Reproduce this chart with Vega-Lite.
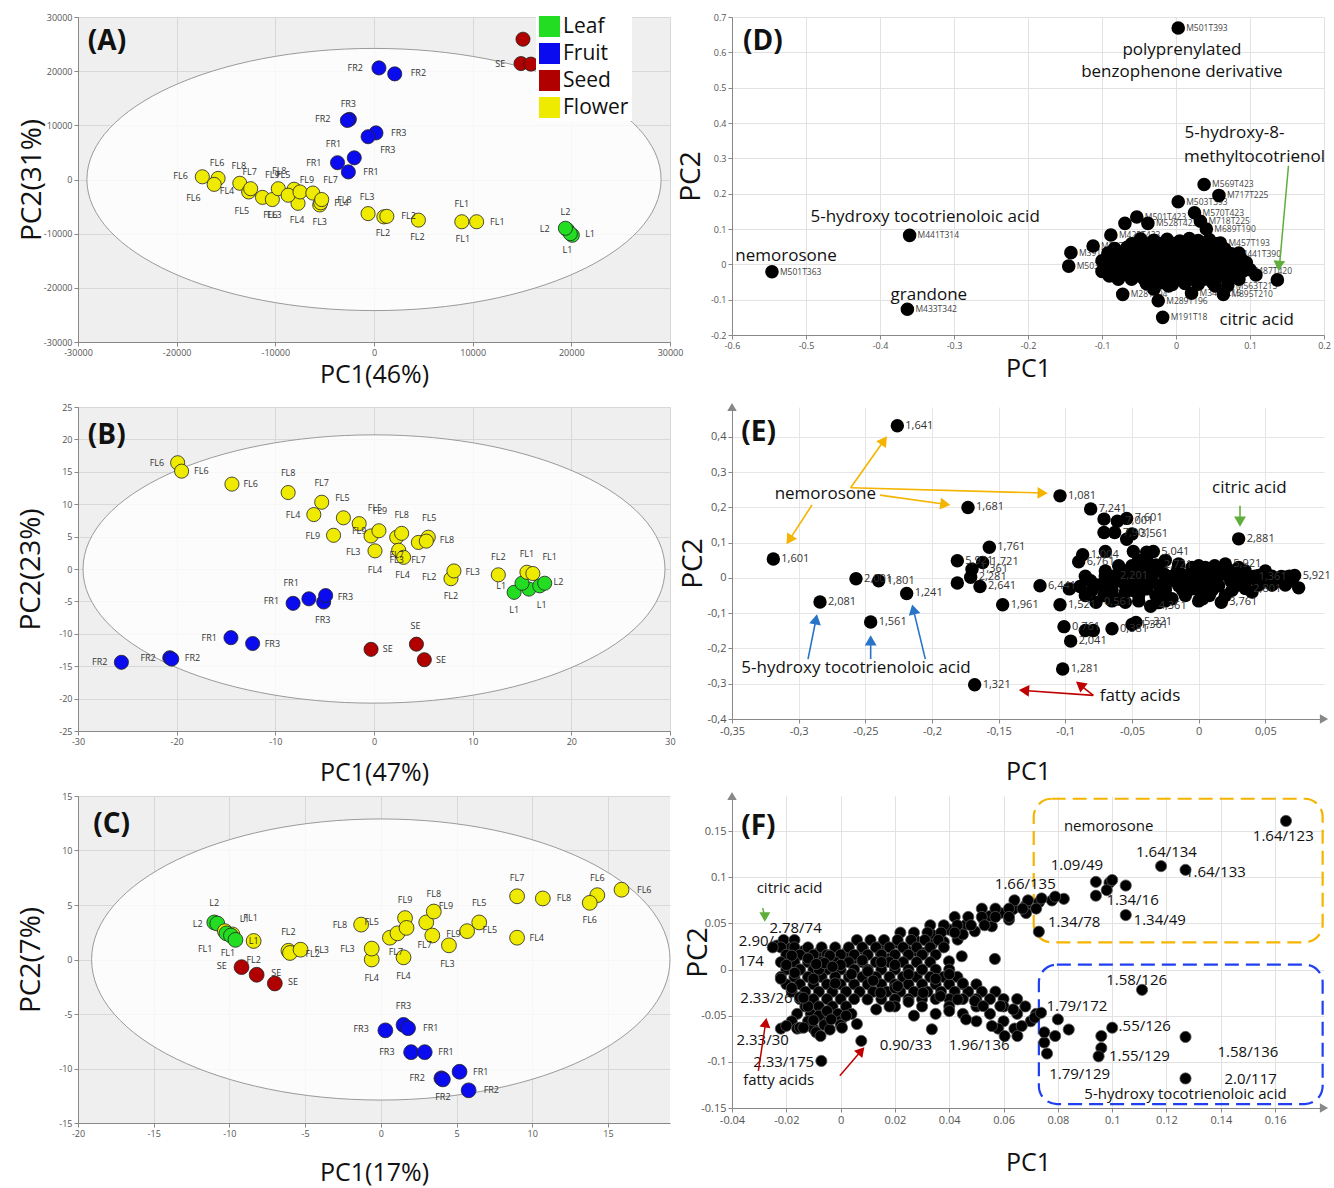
{
"$schema":"https://vega.github.io/schema/vega-lite/v6.json",
"background":"#ffffff",
"padding":{"left":17,"top":13,"right":2,"bottom":2},
"config":{"font":"Open Sans","view":{"stroke":null},
 "axis":{"labelFont":"Open Sans","titleFont":"Open Sans","labelColor":"#555","titleColor":"#111","titleFontWeight":"normal","domainColor":"#888","tickColor":"#888","gridColor":"#d8d8d8","tickSize":4,"labelFontSize":9,"labelPadding":2,"labelFlush":false,"labelOverlap":false},
 "text":{"font":"Open Sans"}},
"datasets":{
"A_pts":[{"x":15100,"y":25900,"tissue":"Seed"},{"x":14900,"y":21400,"tissue":"Seed"},{"x":15900,"y":21300,"tissue":"Seed"},{"x":500,"y":20600,"tissue":"Fruit"},{"x":2100,"y":19500,"tissue":"Fruit"},{"x":-2500,"y":11100,"tissue":"Fruit"},{"x":-2700,"y":10900,"tissue":"Fruit"},{"x":200,"y":8600,"tissue":"Fruit"},{"x":-600,"y":7900,"tissue":"Fruit"},{"x":-2000,"y":4000,"tissue":"Fruit"},{"x":-3700,"y":3100,"tissue":"Fruit"},{"x":-2600,"y":1400,"tissue":"Fruit"},
{"x":-17400,"y":500,"tissue":"Flower"},{"x":-15800,"y":200,"tissue":"Flower"},{"x":-16200,"y":-900,"tissue":"Flower"},{"x":-13600,"y":-700,"tissue":"Flower"},{"x":-12700,"y":-2300,"tissue":"Flower"},{"x":-12500,"y":-1700,"tissue":"Flower"},{"x":-11300,"y":-3300,"tissue":"Flower"},{"x":-10300,"y":-3700,"tissue":"Flower"},{"x":-9700,"y":-1700,"tissue":"Flower"},{"x":-8100,"y":-1800,"tissue":"Flower"},{"x":-7700,"y":-4400,"tissue":"Flower"},{"x":-8700,"y":-2900,"tissue":"Flower"},{"x":-7500,"y":-2300,"tissue":"Flower"},{"x":-6200,"y":-2500,"tissue":"Flower"},{"x":-5500,"y":-4700,"tissue":"Flower"},{"x":-5400,"y":-4300,"tissue":"Flower"},{"x":-5300,"y":-3700,"tissue":"Flower"},{"x":-600,"y":-6300,"tissue":"Flower"},{"x":1000,"y":-6900,"tissue":"Flower"},{"x":1300,"y":-6800,"tissue":"Flower"},{"x":4500,"y":-7500,"tissue":"Flower"},{"x":8900,"y":-7800,"tissue":"Flower"},{"x":10400,"y":-7800,"tissue":"Flower"},
{"x":19600,"y":-9300,"tissue":"Leaf"},{"x":20100,"y":-10300,"tissue":"Leaf"},{"x":19900,"y":-10000,"tissue":"Leaf"},{"x":19400,"y":-9000,"tissue":"Leaf"}],
"A_lab":[{"x":17100,"y":25900,"label":"SE"},{"x":12800,"y":21400,"label":"SE"},{"x":17800,"y":21300,"label":"SE"},{"x":-1900,"y":20600,"label":"FR2"},{"x":4500,"y":19700,"label":"FR2"},{"x":-2600,"y":13900,"label":"FR3"},{"x":-5200,"y":11100,"label":"FR2"},{"x":2500,"y":8600,"label":"FR3"},{"x":1400,"y":5400,"label":"FR3"},{"x":-4100,"y":6500,"label":"FR1"},{"x":-6100,"y":3100,"label":"FR1"},{"x":-300,"y":1400,"label":"FR1"},{"x":-19600,"y":600,"label":"FL6"},{"x":-15900,"y":3100,"label":"FL6"},{"x":-18300,"y":-3400,"label":"FL6"},{"x":-13700,"y":2500,"label":"FL8"},{"x":-12600,"y":1400,"label":"FL7"},{"x":-14900,"y":-2100,"label":"FL4"},{"x":-13400,"y":-5800,"label":"FL5"},{"x":-9600,"y":1600,"label":"FL8"},{"x":-10300,"y":800,"label":"FL9"},{"x":-9200,"y":800,"label":"FL5"},{"x":-10500,"y":-6600,"label":"FL6"},{"x":-10100,"y":-6600,"label":"FL3"},{"x":-6800,"y":-100,"label":"FL9"},{"x":-4400,"y":-100,"label":"FL7"},{"x":-7800,"y":-7400,"label":"FL4"},{"x":-5500,"y":-7800,"label":"FL3"},{"x":-3000,"y":-3700,"label":"FL8"},{"x":-3300,"y":-4300,"label":"FL4"},{"x":-700,"y":-3200,"label":"FL3"},{"x":900,"y":-9800,"label":"FL2"},{"x":3500,"y":-6800,"label":"FL2"},{"x":4400,"y":-10600,"label":"FL2"},{"x":8900,"y":-4600,"label":"FL1"},{"x":9000,"y":-10900,"label":"FL1"},{"x":12500,"y":-7800,"label":"FL1"},{"x":17300,"y":-9100,"label":"L2"},{"x":19400,"y":-6000,"label":"L2"},{"x":21900,"y":-10100,"label":"L1"},{"x":19600,"y":-13000,"label":"L1"}],
"B_pts":[{"x":-19.9,"y":16.4,"tissue":"Flower"},{"x":-19.5,"y":15.1,"tissue":"Flower"},{"x":-14.4,"y":13.1,"tissue":"Flower"},{"x":-8.7,"y":11.8,"tissue":"Flower"},{"x":-5.3,"y":10.3,"tissue":"Flower"},{"x":-6.1,"y":8.4,"tissue":"Flower"},{"x":-3.1,"y":7.9,"tissue":"Flower"},{"x":-4.1,"y":5.2,"tissue":"Flower"},{"x":-1.5,"y":7.0,"tissue":"Flower"},{"x":-0.3,"y":5.1,"tissue":"Flower"},{"x":0.5,"y":5.9,"tissue":"Flower"},{"x":0.1,"y":2.8,"tissue":"Flower"},{"x":2.3,"y":4.9,"tissue":"Flower"},{"x":2.8,"y":5.5,"tissue":"Flower"},{"x":2.5,"y":2.9,"tissue":"Flower"},{"x":3.0,"y":1.8,"tissue":"Flower"},{"x":4.5,"y":4.1,"tissue":"Flower"},{"x":5.5,"y":4.9,"tissue":"Flower"},{"x":5.3,"y":4.3,"tissue":"Flower"},{"x":7.8,"y":-1.5,"tissue":"Flower"},{"x":8.1,"y":-0.3,"tissue":"Flower"},{"x":12.6,"y":-0.9,"tissue":"Flower"},
{"x":14.2,"y":-3.6,"tissue":"Leaf"},{"x":15.7,"y":-3.1,"tissue":"Leaf"},{"x":16.8,"y":-2.6,"tissue":"Leaf"},{"x":17.3,"y":-2.2,"tissue":"Leaf"},{"x":15.0,"y":-2.2,"tissue":"Leaf"},{"x":15.5,"y":-0.5,"tissue":"Flower"},{"x":16.1,"y":-0.7,"tissue":"Flower"},
{"x":-8.2,"y":-5.3,"tissue":"Fruit"},{"x":-6.6,"y":-4.6,"tissue":"Fruit"},{"x":-5.1,"y":-5.1,"tissue":"Fruit"},{"x":-4.9,"y":-4.1,"tissue":"Fruit"},{"x":-14.5,"y":-10.6,"tissue":"Fruit"},{"x":-12.3,"y":-11.5,"tissue":"Fruit"},{"x":-20.7,"y":-13.7,"tissue":"Fruit"},{"x":-20.5,"y":-13.9,"tissue":"Fruit"},{"x":-25.6,"y":-14.4,"tissue":"Fruit"},
{"x":-0.3,"y":-12.4,"tissue":"Seed"},{"x":4.3,"y":-11.6,"tissue":"Seed"},{"x":5.1,"y":-14.0,"tissue":"Seed"}],
"B_lab":[{"x":-22.0,"y":16.3,"label":"FL6"},{"x":-17.5,"y":15.2,"label":"FL6"},{"x":-12.5,"y":13.1,"label":"FL6"},{"x":-8.7,"y":14.8,"label":"FL8"},{"x":-5.3,"y":13.2,"label":"FL7"},{"x":-3.2,"y":10.9,"label":"FL5"},{"x":-8.2,"y":8.4,"label":"FL4"},{"x":-6.2,"y":5.1,"label":"FL9"},{"x":-1.5,"y":5.9,"label":"FL9"},{"x":0.1,"y":9.4,"label":"FL5"},{"x":0.6,"y":9.0,"label":"FL9"},{"x":2.8,"y":8.4,"label":"FL8"},{"x":5.6,"y":7.8,"label":"FL5"},{"x":7.4,"y":4.5,"label":"FL8"},{"x":-2.1,"y":2.7,"label":"FL3"},{"x":0.1,"y":-0.1,"label":"FL4"},{"x":2.3,"y":1.4,"label":"FL3"},{"x":2.3,"y":2.2,"label":"FL7"},{"x":4.5,"y":1.4,"label":"FL7"},{"x":2.9,"y":-1.0,"label":"FL4"},{"x":5.6,"y":-1.3,"label":"FL2"},{"x":10.0,"y":-0.4,"label":"FL3"},{"x":7.8,"y":-4.2,"label":"FL2"},{"x":12.6,"y":1.9,"label":"FL2"},{"x":15.5,"y":2.3,"label":"FL1"},{"x":17.8,"y":1.8,"label":"FL1"},{"x":12.9,"y":-2.6,"label":"L1"},{"x":18.7,"y":-2.0,"label":"L2"},{"x":14.2,"y":-6.4,"label":"L1"},{"x":17.0,"y":-5.5,"label":"L1"},{"x":-8.4,"y":-2.2,"label":"FR1"},{"x":-10.4,"y":-5.0,"label":"FR1"},{"x":-2.9,"y":-4.3,"label":"FR3"},{"x":-5.2,"y":-7.9,"label":"FR3"},{"x":-16.7,"y":-10.6,"label":"FR1"},{"x":-10.3,"y":-11.5,"label":"FR3"},{"x":-22.9,"y":-13.7,"label":"FR2"},{"x":-18.4,"y":-13.8,"label":"FR2"},{"x":-27.8,"y":-14.4,"label":"FR2"},{"x":1.4,"y":-12.4,"label":"SE"},{"x":4.2,"y":-8.8,"label":"SE"},{"x":6.8,"y":-14.0,"label":"SE"}],
"C_pts":[{"x":-11.0,"y":3.4,"tissue":"Leaf"},{"x":-10.8,"y":3.3,"tissue":"Leaf"},{"x":-10.3,"y":2.6,"tissue":"Flower"},{"x":-9.8,"y":2.3,"tissue":"Flower"},{"x":-8.4,"y":1.7,"tissue":"Flower"},{"x":-10.2,"y":2.4,"tissue":"Leaf"},{"x":-9.9,"y":2.2,"tissue":"Leaf"},{"x":-9.6,"y":1.8,"tissue":"Leaf"},
{"x":-6.1,"y":0.8,"tissue":"Flower"},{"x":-6.0,"y":0.6,"tissue":"Flower"},{"x":-5.3,"y":0.9,"tissue":"Flower"},{"x":-1.3,"y":3.2,"tissue":"Flower"},{"x":-0.6,"y":0.0,"tissue":"Flower"},{"x":-0.6,"y":1.0,"tissue":"Flower"},{"x":0.6,"y":2.0,"tissue":"Flower"},{"x":1.1,"y":2.4,"tissue":"Flower"},{"x":1.6,"y":3.8,"tissue":"Flower"},{"x":1.7,"y":2.9,"tissue":"Flower"},{"x":1.5,"y":0.2,"tissue":"Flower"},{"x":3.0,"y":3.4,"tissue":"Flower"},{"x":3.5,"y":4.4,"tissue":"Flower"},{"x":3.4,"y":2.2,"tissue":"Flower"},{"x":4.5,"y":1.3,"tissue":"Flower"},{"x":5.7,"y":2.6,"tissue":"Flower"},{"x":6.5,"y":3.4,"tissue":"Flower"},{"x":9.0,"y":5.8,"tissue":"Flower"},{"x":9.0,"y":2.0,"tissue":"Flower"},{"x":10.7,"y":5.6,"tissue":"Flower"},{"x":14.3,"y":5.9,"tissue":"Flower"},{"x":13.8,"y":5.2,"tissue":"Flower"},{"x":15.9,"y":6.4,"tissue":"Flower"},
{"x":-9.2,"y":-0.7,"tissue":"Seed"},{"x":-8.2,"y":-1.4,"tissue":"Seed"},{"x":-7.0,"y":-2.2,"tissue":"Seed"},
{"x":0.3,"y":-6.5,"tissue":"Fruit"},{"x":1.5,"y":-6.0,"tissue":"Fruit"},{"x":1.8,"y":-6.3,"tissue":"Fruit"},{"x":2.0,"y":-8.5,"tissue":"Fruit"},{"x":2.9,"y":-8.5,"tissue":"Fruit"},{"x":5.2,"y":-10.3,"tissue":"Fruit"},{"x":4.0,"y":-10.9,"tissue":"Fruit"},{"x":4.1,"y":-11.0,"tissue":"Fruit"},{"x":5.8,"y":-12.0,"tissue":"Fruit"}],
"C_lab":[{"x":-11.0,"y":5.2,"label":"L2"},{"x":-12.1,"y":3.3,"label":"L2"},{"x":-9.0,"y":3.7,"label":"L1"},{"x":-8.6,"y":3.8,"label":"FL1"},{"x":-11.6,"y":1.0,"label":"FL1"},{"x":-10.1,"y":0.6,"label":"FL1"},{"x":-8.4,"y":1.7,"label":"L1"},{"x":-8.4,"y":0.0,"label":"FL2"},{"x":-10.5,"y":-0.6,"label":"SE"},{"x":-6.9,"y":-1.2,"label":"SE"},{"x":-5.8,"y":-2.1,"label":"SE"},{"x":-6.1,"y":2.5,"label":"FL2"},{"x":-3.9,"y":0.9,"label":"FL3"},{"x":-4.5,"y":0.5,"label":"FL2"},{"x":-2.7,"y":3.2,"label":"FL8"},{"x":-0.6,"y":3.4,"label":"FL5"},{"x":-2.2,"y":1.0,"label":"FL3"},{"x":-0.6,"y":-1.7,"label":"FL4"},{"x":1.0,"y":0.7,"label":"FL7"},{"x":1.6,"y":5.5,"label":"FL9"},{"x":3.5,"y":6.0,"label":"FL8"},{"x":4.3,"y":4.9,"label":"FL9"},{"x":1.5,"y":-1.5,"label":"FL4"},{"x":2.9,"y":1.3,"label":"FL7"},{"x":4.8,"y":2.3,"label":"FL9"},{"x":4.4,"y":-0.4,"label":"FL3"},{"x":6.5,"y":5.2,"label":"FL5"},{"x":7.2,"y":2.7,"label":"FL5"},{"x":9.0,"y":7.5,"label":"FL7"},{"x":12.1,"y":5.6,"label":"FL8"},{"x":10.3,"y":2.0,"label":"FL4"},{"x":14.3,"y":7.5,"label":"FL6"},{"x":17.4,"y":6.4,"label":"FL6"},{"x":13.8,"y":3.6,"label":"FL6"},{"x":1.5,"y":-4.3,"label":"FR3"},{"x":-1.3,"y":-6.4,"label":"FR3"},{"x":3.3,"y":-6.3,"label":"FR1"},{"x":0.4,"y":-8.5,"label":"FR3"},{"x":4.3,"y":-8.5,"label":"FR1"},{"x":6.6,"y":-10.3,"label":"FR1"},{"x":2.4,"y":-10.9,"label":"FR2"},{"x":4.1,"y":-12.6,"label":"FR2"},{"x":7.3,"y":-12.0,"label":"FR2"}],
"D_pts":[{"x":0.003,"y":0.669,"label":"M501T393"},{"x":0.038,"y":0.226,"label":"M569T423"},{"x":0.058,"y":0.195,"label":"M717T225"},{"x":0.003,"y":0.177,"label":"M503T393"},{"x":0.025,"y":0.146,"label":"M570T423"},{"x":0.033,"y":0.122,"label":"M718T225"},{"x":0.041,"y":0.100,"label":"M689T190"},{"x":-0.053,"y":0.134,"label":"M501T423"},{"x":-0.069,"y":0.116,"label":""},{"x":-0.038,"y":0.116,"label":"M528T423"},{"x":-0.088,"y":0.083,"label":"M425T423"},{"x":-0.112,"y":0.052,"label":"M327T86"},{"x":-0.360,"y":0.082,"label":"M441T314"},{"x":-0.546,"y":-0.021,"label":"M501T363"},{"x":-0.363,"y":-0.127,"label":"M433T342"},{"x":-0.142,"y":0.033,"label":"M391T48"},{"x":-0.145,"y":-0.005,"label":"M503T363"},{"x":-0.072,"y":-0.085,"label":"M281T94"},{"x":-0.024,"y":-0.103,"label":"M289T196"},{"x":-0.018,"y":-0.150,"label":"M191T18"},{"x":0.021,"y":-0.082,"label":"M349T215"},{"x":0.064,"y":-0.085,"label":"M895T210"},{"x":0.137,"y":-0.044,"label":""},{"x":0.09,"y":-0.02,"label":"M487T420"},{"x":0.07,"y":-0.06,"label":"M563T215"},{"x":0.06,"y":0.06,"label":"M457T193"},{"x":0.075,"y":0.03,"label":"M441T390"},
{"x":-0.048,"y":0.072,"label":""},{"x":-0.03,"y":0.068,"label":""},{"x":-0.012,"y":0.071,"label":""},{"x":0.005,"y":0.066,"label":""},{"x":0.018,"y":0.073,"label":""},{"x":0.03,"y":0.067,"label":""},{"x":0.045,"y":0.07,"label":""},
{"x":-0.06,"y":0.058,"label":""},{"x":-0.04,"y":0.058,"label":""},{"x":-0.021,"y":0.058,"label":""},{"x":-0.003,"y":0.058,"label":""},{"x":0.012,"y":0.058,"label":""},{"x":0.025,"y":0.058,"label":""},{"x":0.038,"y":0.058,"label":""},{"x":0.055,"y":0.058,"label":""},
{"x":-0.083,"y":0.045,"label":""},{"x":-0.066,"y":0.048,"label":""},{"x":-0.05,"y":0.043,"label":""},{"x":-0.035,"y":0.046,"label":""},{"x":-0.02,"y":0.044,"label":""},{"x":-0.005,"y":0.047,"label":""},{"x":0.01,"y":0.043,"label":""},{"x":0.024,"y":0.046,"label":""},{"x":0.038,"y":0.044,"label":""},{"x":0.052,"y":0.047,"label":""},{"x":0.066,"y":0.043,"label":""},
{"x":-0.092,"y":0.032,"label":""},{"x":-0.075,"y":0.032,"label":""},{"x":-0.058,"y":0.032,"label":""},{"x":-0.042,"y":0.032,"label":""},{"x":-0.027,"y":0.032,"label":""},{"x":-0.012,"y":0.032,"label":""},{"x":0.003,"y":0.032,"label":""},{"x":0.017,"y":0.032,"label":""},{"x":0.031,"y":0.032,"label":""},{"x":0.045,"y":0.032,"label":""},{"x":0.059,"y":0.032,"label":""},{"x":0.085,"y":0.032,"label":""},
{"x":-0.09,"y":0.02,"label":""},{"x":-0.075,"y":0.022,"label":""},{"x":-0.06,"y":0.018,"label":""},{"x":-0.045,"y":0.021,"label":""},{"x":-0.03,"y":0.019,"label":""},{"x":-0.015,"y":0.022,"label":""},{"x":0.0,"y":0.018,"label":""},{"x":0.015,"y":0.021,"label":""},{"x":0.03,"y":0.019,"label":""},{"x":0.045,"y":0.022,"label":""},{"x":0.06,"y":0.018,"label":""},{"x":0.075,"y":0.012,"label":""},{"x":0.088,"y":0.015,"label":""},
{"x":-0.095,"y":0.008,"label":""},{"x":-0.08,"y":0.008,"label":""},{"x":-0.065,"y":0.008,"label":""},{"x":-0.05,"y":0.008,"label":""},{"x":-0.035,"y":0.008,"label":""},{"x":-0.02,"y":0.008,"label":""},{"x":-0.005,"y":0.008,"label":""},{"x":0.01,"y":0.008,"label":""},{"x":0.025,"y":0.008,"label":""},{"x":0.04,"y":0.008,"label":""},{"x":0.055,"y":0.008,"label":""},{"x":0.068,"y":0.008,"label":""},{"x":0.082,"y":0.008,"label":""},{"x":0.095,"y":0.005,"label":""},
{"x":-0.088,"y":-0.005,"label":""},{"x":-0.072,"y":-0.003,"label":""},{"x":-0.057,"y":-0.007,"label":""},{"x":-0.042,"y":-0.004,"label":""},{"x":-0.027,"y":-0.006,"label":""},{"x":-0.012,"y":-0.003,"label":""},{"x":0.003,"y":-0.007,"label":""},{"x":0.018,"y":-0.004,"label":""},{"x":0.033,"y":-0.006,"label":""},{"x":0.048,"y":-0.003,"label":""},{"x":0.063,"y":-0.007,"label":""},{"x":0.078,"y":-0.004,"label":""},{"x":0.093,"y":-0.008,"label":""},
{"x":-0.095,"y":-0.017,"label":""},{"x":-0.08,"y":-0.017,"label":""},{"x":-0.064,"y":-0.017,"label":""},{"x":-0.05,"y":-0.017,"label":""},{"x":-0.035,"y":-0.017,"label":""},{"x":-0.02,"y":-0.017,"label":""},{"x":-0.004,"y":-0.017,"label":""},{"x":0.01,"y":-0.017,"label":""},{"x":0.026,"y":-0.017,"label":""},{"x":0.04,"y":-0.017,"label":""},{"x":0.055,"y":-0.017,"label":""},{"x":0.07,"y":-0.017,"label":""},{"x":0.086,"y":-0.017,"label":""},{"x":0.1,"y":-0.015,"label":""},
{"x":-0.085,"y":-0.03,"label":""},{"x":-0.068,"y":-0.028,"label":""},{"x":-0.05,"y":-0.032,"label":""},{"x":-0.034,"y":-0.029,"label":""},{"x":-0.018,"y":-0.031,"label":""},{"x":-0.002,"y":-0.028,"label":""},{"x":0.014,"y":-0.032,"label":""},{"x":0.03,"y":-0.029,"label":""},{"x":0.046,"y":-0.031,"label":""},{"x":0.062,"y":-0.028,"label":""},{"x":0.078,"y":-0.032,"label":""},{"x":0.108,"y":-0.03,"label":""},
{"x":-0.078,"y":-0.042,"label":""},{"x":-0.06,"y":-0.042,"label":""},{"x":-0.043,"y":-0.042,"label":""},{"x":-0.026,"y":-0.042,"label":""},{"x":-0.01,"y":-0.042,"label":""},{"x":0.006,"y":-0.042,"label":""},{"x":0.022,"y":-0.042,"label":""},{"x":0.038,"y":-0.042,"label":""},{"x":0.054,"y":-0.042,"label":""},{"x":0.07,"y":-0.042,"label":""},{"x":0.085,"y":-0.042,"label":""},
{"x":-0.04,"y":-0.055,"label":""},{"x":-0.022,"y":-0.053,"label":""},{"x":-0.005,"y":-0.057,"label":""},{"x":0.012,"y":-0.054,"label":""},{"x":0.03,"y":-0.056,"label":""},{"x":0.05,"y":-0.053,"label":""},{"x":-0.09,"y":-0.033,"label":""},{"x":-0.03,"y":-0.07,"label":""},{"x":-0.01,"y":-0.061,"label":""},{"x":0.053,"y":-0.061,"label":""},{"x":-0.1,"y":0.01,"label":""},{"x":-0.1,"y":-0.02,"label":""}],
"D_notes":[{"x":0.008,"y":0.608,"label":"polyprenylated"},{"x":0.008,"y":0.545,"label":"benzophenone derivative"},{"x":0.079,"y":0.371,"label":"5-hydroxy-8-"},{"x":0.106,"y":0.305,"label":"methyltocotrienol"},{"x":-0.339,"y":0.134,"label":"5-hydroxy tocotrienoloic acid"},{"x":-0.527,"y":0.025,"label":"nemorosone"},{"x":-0.334,"y":-0.087,"label":"grandone"},{"x":0.109,"y":-0.157,"label":"citric acid"}],
"E_pts":[{"x":-0.226,"y":0.432,"label":"1,641"},{"x":-0.104,"y":0.233,"label":"1,081"},{"x":-0.173,"y":0.200,"label":"1,681"},{"x":-0.081,"y":0.196,"label":"7,241"},{"x":-0.319,"y":0.054,"label":"1,601"},{"x":-0.157,"y":0.087,"label":"1,761"},{"x":0.030,"y":0.111,"label":"2,881"},{"x":-0.257,"y":-0.002,"label":"2,001"},{"x":-0.240,"y":-0.008,"label":"1,801"},{"x":-0.219,"y":-0.044,"label":"1,241"},{"x":-0.284,"y":-0.068,"label":"2,081"},{"x":-0.246,"y":-0.125,"label":"1,561"},{"x":-0.147,"y":-0.076,"label":"1,961"},{"x":-0.168,"y":-0.303,"label":"1,321"},{"x":-0.102,"y":-0.258,"label":"1,281"},{"x":-0.096,"y":-0.179,"label":"2,041"},{"x":-0.181,"y":0.049,"label":"5,921"},{"x":-0.162,"y":0.044,"label":"1,721"},{"x":-0.170,"y":0.025,"label":"1,361"},{"x":-0.171,"y":0.002,"label":"2,281"},{"x":-0.181,"y":-0.014,"label":""},{"x":-0.164,"y":-0.024,"label":"2,641"},{"x":-0.119,"y":-0.022,"label":"6,441"},{"x":-0.104,"y":-0.076,"label":"1,521"},{"x":-0.101,"y":-0.138,"label":"0,761"},{"x":-0.087,"y":0.066,"label":"1,004"},{"x":-0.090,"y":0.046,"label":"6,761"},
{"x":-0.071,"y":0.167,"label":""},{"x":-0.061,"y":0.161,"label":"7,001"},{"x":-0.054,"y":0.169,"label":"7,601"},{"x":-0.071,"y":0.129,"label":""},{"x":-0.063,"y":0.129,"label":"7,901"},{"x":-0.054,"y":0.110,"label":""},{"x":-0.050,"y":0.125,"label":"3,561"},{"x":-0.049,"y":0.075,"label":""},{"x":-0.070,"y":0.075,"label":""},{"x":-0.039,"y":0.073,"label":""},{"x":-0.034,"y":0.075,"label":"5,041"},{"x":-0.039,"y":0.059,"label":""},{"x":-0.032,"y":0.037,"label":"2,721"},{"x":-0.047,"y":0.025,"label":""},{"x":-0.059,"y":0.021,"label":""},{"x":-0.065,"y":0.005,"label":"2,201"},{"x":-0.081,"y":-0.008,"label":""},{"x":-0.089,"y":-0.024,"label":""},{"x":-0.097,"y":-0.031,"label":""},{"x":-0.067,"y":-0.022,"label":""},{"x":-0.071,"y":-0.050,"label":""},{"x":-0.077,"y":-0.069,"label":"0,561"},{"x":-0.055,"y":-0.069,"label":""},{"x":-0.047,"y":-0.017,"label":""},{"x":-0.039,"y":-0.031,"label":""},{"x":-0.047,"y":-0.038,"label":""},{"x":-0.035,"y":0.007,"label":""},{"x":-0.026,"y":0.011,"label":""},{"x":-0.025,"y":-0.022,"label":""},{"x":-0.032,"y":-0.050,"label":""},{"x":-0.036,"y":-0.080,"label":"4,361"},{"x":-0.020,"y":-0.059,"label":""},{"x":-0.015,"y":-0.022,"label":""},{"x":-0.011,"y":0.007,"label":""},{"x":-0.005,"y":-0.031,"label":""},{"x":0.000,"y":0.016,"label":""},{"x":0.007,"y":-0.003,"label":""},{"x":0.010,"y":0.025,"label":""},{"x":0.015,"y":-0.022,"label":""},{"x":0.020,"y":0.040,"label":"5,921"},{"x":0.023,"y":0.007,"label":""},{"x":0.028,"y":-0.012,"label":""},{"x":0.033,"y":0.016,"label":""},{"x":0.039,"y":0.002,"label":"1,361"},{"x":0.045,"y":0.007,"label":""},{"x":0.053,"y":-0.003,"label":""},{"x":0.062,"y":0.004,"label":""},{"x":0.072,"y":0.007,"label":"5,921"},{"x":0.075,"y":-0.028,"label":""},{"x":0.017,"y":-0.069,"label":"3,761"},{"x":0.003,"y":-0.059,"label":""},{"x":0.035,"y":-0.03,"label":"2,801"},{"x":-0.047,"y":-0.126,"label":"5,321"},{"x":-0.085,"y":-0.149,"label":""},{"x":-0.079,"y":-0.149,"label":""},{"x":-0.065,"y":-0.144,"label":"0,381"},{"x":-0.050,"y":-0.132,"label":"1,361"},
{"x":0.005,"y":0.03,"label":""},{"x":0.012,"y":-0.01,"label":""},{"x":0.025,"y":0.02,"label":""},{"x":0.05,"y":0.015,"label":""},{"x":0.058,"y":-0.01,"label":""},{"x":0.04,"y":-0.04,"label":""},{"x":0.02,"y":-0.05,"label":""},{"x":-0.01,"y":-0.045,"label":""},{"x":-0.005,"y":0.03,"label":""},{"x":-0.015,"y":0.04,"label":""},{"x":-0.02,"y":-0.005,"label":""},{"x":0.065,"y":0.002,"label":""},{"x":0.03,"y":0.03,"label":""},{"x":-0.055,"y":-0.04,"label":""},{"x":-0.06,"y":-0.06,"label":""},{"x":-0.045,"y":0.05,"label":""},{"x":-0.03,"y":-0.07,"label":""},{"x":0.01,"y":-0.035,"label":""},
{"x":-0.045,"y":0.05,"label":""},{"x":-0.025,"y":0.05,"label":""},{"x":-0.06,"y":0.035,"label":""},{"x":-0.05,"y":0.035,"label":""},{"x":-0.04,"y":0.035,"label":""},{"x":-0.015,"y":0.035,"label":""},{"x":0.0,"y":0.035,"label":""},{"x":0.012,"y":0.035,"label":""},
{"x":-0.07,"y":0.02,"label":""},{"x":-0.055,"y":0.02,"label":""},{"x":-0.04,"y":0.02,"label":""},{"x":-0.028,"y":0.02,"label":""},{"x":-0.016,"y":0.02,"label":""},{"x":-0.004,"y":0.02,"label":""},{"x":0.008,"y":0.02,"label":""},{"x":0.02,"y":0.02,"label":""},{"x":0.035,"y":0.02,"label":""},{"x":0.05,"y":0.02,"label":""},
{"x":-0.085,"y":0.005,"label":""},{"x":-0.07,"y":0.005,"label":""},{"x":-0.055,"y":0.005,"label":""},{"x":-0.045,"y":0.005,"label":""},{"x":-0.02,"y":0.005,"label":""},{"x":-0.005,"y":0.005,"label":""},{"x":0.005,"y":0.005,"label":""},{"x":0.015,"y":0.005,"label":""},{"x":0.03,"y":0.005,"label":""},{"x":0.042,"y":0.005,"label":""},{"x":0.055,"y":0.005,"label":""},{"x":0.068,"y":0.005,"label":""},
{"x":-0.06,"y":-0.008,"label":""},{"x":-0.048,"y":-0.008,"label":""},{"x":-0.036,"y":-0.008,"label":""},{"x":-0.024,"y":-0.008,"label":""},{"x":-0.012,"y":-0.008,"label":""},{"x":0.0,"y":-0.008,"label":""},{"x":0.024,"y":-0.008,"label":""},{"x":0.036,"y":-0.008,"label":""},{"x":0.048,"y":-0.008,"label":""},{"x":0.07,"y":-0.008,"label":""},
{"x":-0.075,"y":-0.02,"label":""},{"x":-0.055,"y":-0.02,"label":""},{"x":-0.04,"y":-0.02,"label":""},{"x":-0.03,"y":-0.02,"label":""},{"x":-0.006,"y":-0.02,"label":""},{"x":0.006,"y":-0.02,"label":""},{"x":0.03,"y":-0.02,"label":""},{"x":0.045,"y":-0.02,"label":""},{"x":0.055,"y":-0.02,"label":""},{"x":0.065,"y":-0.02,"label":""},
{"x":-0.08,"y":-0.035,"label":""},{"x":-0.065,"y":-0.035,"label":""},{"x":-0.05,"y":-0.035,"label":""},{"x":-0.025,"y":-0.035,"label":""},{"x":-0.012,"y":-0.035,"label":""},{"x":0.0,"y":-0.035,"label":""},{"x":0.025,"y":-0.035,"label":""},
{"x":-0.085,"y":-0.05,"label":""},{"x":-0.045,"y":-0.05,"label":""},{"x":-0.025,"y":-0.05,"label":""},{"x":-0.01,"y":-0.05,"label":""},{"x":0.008,"y":-0.05,"label":""},{"x":-0.065,"y":-0.065,"label":""},{"x":-0.045,"y":-0.065,"label":""},{"x":-0.025,"y":-0.065,"label":""},{"x":0.0,"y":-0.065,"label":""}],
"E_notes":[{"x":-0.280,"y":0.238,"label":"nemorosone"},{"x":0.038,"y":0.255,"label":"citric acid"},{"x":-0.257,"y":-0.255,"label":"5-hydroxy tocotrienoloic acid"},{"x":-0.044,"y":-0.334,"label":"fatty acids"}],
"F_pts":[{"x":0.164,"y":0.161},{"x":0.118,"y":0.112},{"x":0.127,"y":0.108},{"x":0.094,"y":0.095},{"x":0.099,"y":0.094},{"x":0.100,"y":0.097},{"x":0.105,"y":0.091},{"x":0.094,"y":0.080},{"x":0.098,"y":0.086},{"x":0.105,"y":0.059},{"x":0.073,"y":0.041},
{"x":0.111,"y":-0.022},{"x":0.080,"y":-0.054},{"x":0.075,"y":-0.079},{"x":0.076,"y":-0.091},{"x":0.075,"y":-0.068},{"x":0.079,"y":-0.072},{"x":0.084,"y":-0.065},{"x":0.100,"y":-0.063},{"x":0.096,"y":-0.072},{"x":0.096,"y":-0.085},{"x":0.095,"y":-0.094},{"x":0.127,"y":-0.073},{"x":0.127,"y":-0.118},
{"x":-0.0235,"y":0.026},{"x":-0.019,"y":0.023},{"x":-0.0137,"y":0.020},{"x":-0.0082,"y":0.018},{"x":0.002,"y":0.018},{"x":0.0084,"y":0.0216},{"x":0.0147,"y":0.025},{"x":0.021,"y":0.0288},{"x":0.0273,"y":0.0324},{"x":0.0336,"y":0.0378},{"x":0.0399,"y":0.0432},{"x":0.0462,"y":0.0486},{"x":0.0525,"y":0.0547},{"x":0.0588,"y":0.0612},{"x":0.0636,"y":0.0655},{"x":0.0683,"y":0.0701},{"x":0.073,"y":0.0727},{"x":0.0778,"y":0.0748},{"x":0.0822,"y":0.0766},
{"x":0.0147,"y":0.018},{"x":0.0241,"y":0.0216},{"x":0.0336,"y":0.027},{"x":0.0431,"y":0.0324},{"x":0.0494,"y":0.0414},{"x":0.0557,"y":0.0468},{"x":0.062,"y":0.054},{"x":0.0683,"y":0.0612},{"x":0.005,"y":0.012},{"x":0.018,"y":0.012},{"x":0.028,"y":0.02},{"x":0.038,"y":0.03},{"x":0.045,"y":0.038},{"x":0.055,"y":0.058},
{"x":0.0399,"y":0.009},{"x":0.0446,"y":0.0144},{"x":0.0568,"y":0.0115},{"x":0.0304,"y":0.018},
{"x":0.064,"y":0.075},{"x":0.069,"y":0.075},{"x":0.074,"y":0.077},{"x":0.079,"y":0.079},
{"x":0.052,"y":0.066},{"x":0.057,"y":0.066},{"x":0.062,"y":0.066},{"x":0.067,"y":0.066},{"x":0.072,"y":0.066},
{"x":0.042,"y":0.057},{"x":0.047,"y":0.057},{"x":0.052,"y":0.057},{"x":0.057,"y":0.057},{"x":0.062,"y":0.057},
{"x":0.033,"y":0.048},{"x":0.038,"y":0.048},{"x":0.043,"y":0.048},{"x":0.048,"y":0.048},{"x":0.053,"y":0.048},
{"x":0.022,"y":0.04},{"x":0.027,"y":0.04},{"x":0.032,"y":0.04},{"x":0.037,"y":0.04},{"x":0.042,"y":0.04},
{"x":-0.021,"y":0.032},{"x":-0.017,"y":0.032},{"x":0.006,"y":0.032},{"x":0.011,"y":0.032},{"x":0.016,"y":0.032},{"x":0.021,"y":0.032},{"x":0.026,"y":0.032},{"x":0.031,"y":0.032},{"x":0.036,"y":0.032},
{"x":-0.022,"y":0.024},{"x":-0.017,"y":0.024},{"x":-0.012,"y":0.024},{"x":-0.007,"y":0.024},{"x":-0.002,"y":0.024},{"x":0.003,"y":0.024},{"x":0.008,"y":0.024},{"x":0.013,"y":0.024},{"x":0.018,"y":0.024},{"x":0.023,"y":0.024},{"x":0.028,"y":0.024},{"x":0.033,"y":0.024},{"x":0.038,"y":0.024},
{"x":-0.02,"y":0.016},{"x":-0.015,"y":0.016},{"x":-0.01,"y":0.016},{"x":-0.005,"y":0.016},{"x":0.0,"y":0.016},{"x":0.005,"y":0.016},{"x":0.01,"y":0.016},{"x":0.015,"y":0.016},{"x":0.02,"y":0.016},{"x":0.025,"y":0.016},{"x":0.03,"y":0.016},{"x":0.035,"y":0.016},
{"x":-0.022,"y":0.008},{"x":-0.017,"y":0.008},{"x":-0.012,"y":0.008},{"x":-0.007,"y":0.008},{"x":-0.002,"y":0.008},{"x":0.003,"y":0.008},{"x":0.008,"y":0.008},{"x":0.013,"y":0.008},{"x":0.018,"y":0.008},{"x":0.023,"y":0.008},{"x":0.028,"y":0.008},{"x":0.033,"y":0.008},
{"x":-0.02,"y":0.0},{"x":-0.015,"y":0.0},{"x":-0.01,"y":0.0},{"x":-0.005,"y":0.0},{"x":0.0,"y":0.0},{"x":0.005,"y":0.0},{"x":0.01,"y":0.0},{"x":0.015,"y":0.0},{"x":0.02,"y":0.0},{"x":0.025,"y":0.0},{"x":0.03,"y":0.0},{"x":0.035,"y":0.0},{"x":0.04,"y":0.0},
{"x":-0.022,"y":-0.008},{"x":-0.017,"y":-0.008},{"x":-0.012,"y":-0.008},{"x":-0.007,"y":-0.008},{"x":-0.002,"y":-0.008},{"x":0.003,"y":-0.008},{"x":0.008,"y":-0.008},{"x":0.013,"y":-0.008},{"x":0.018,"y":-0.008},{"x":0.023,"y":-0.008},{"x":0.028,"y":-0.008},{"x":0.033,"y":-0.008},{"x":0.038,"y":-0.008},{"x":0.043,"y":-0.008},
{"x":-0.02,"y":-0.016},{"x":-0.015,"y":-0.016},{"x":-0.01,"y":-0.016},{"x":-0.005,"y":-0.016},{"x":0.0,"y":-0.016},{"x":0.005,"y":-0.016},{"x":0.01,"y":-0.016},{"x":0.015,"y":-0.016},{"x":0.02,"y":-0.016},{"x":0.025,"y":-0.016},{"x":0.03,"y":-0.016},{"x":0.035,"y":-0.016},{"x":0.04,"y":-0.016},{"x":0.045,"y":-0.016},{"x":0.05,"y":-0.016},
{"x":-0.018,"y":-0.024},{"x":-0.013,"y":-0.024},{"x":-0.008,"y":-0.024},{"x":-0.003,"y":-0.024},{"x":0.002,"y":-0.024},{"x":0.007,"y":-0.024},{"x":0.012,"y":-0.024},{"x":0.017,"y":-0.024},{"x":0.022,"y":-0.024},{"x":0.027,"y":-0.024},{"x":0.032,"y":-0.024},{"x":0.037,"y":-0.024},{"x":0.042,"y":-0.024},{"x":0.047,"y":-0.024},{"x":0.052,"y":-0.024},{"x":0.057,"y":-0.024},
{"x":-0.015,"y":-0.032},{"x":-0.01,"y":-0.032},{"x":-0.005,"y":-0.032},{"x":0.0,"y":-0.032},{"x":0.005,"y":-0.032},{"x":0.015,"y":-0.032},{"x":0.02,"y":-0.032},{"x":0.025,"y":-0.032},{"x":0.03,"y":-0.032},{"x":0.035,"y":-0.032},{"x":0.04,"y":-0.032},{"x":0.045,"y":-0.032},{"x":0.05,"y":-0.032},{"x":0.055,"y":-0.032},{"x":0.06,"y":-0.032},{"x":0.065,"y":-0.032},
{"x":-0.013,"y":-0.04},{"x":-0.008,"y":-0.04},{"x":-0.003,"y":-0.04},{"x":0.002,"y":-0.04},{"x":0.02,"y":-0.04},{"x":0.03,"y":-0.04},{"x":0.04,"y":-0.04},{"x":0.05,"y":-0.04},{"x":0.06,"y":-0.04},{"x":0.068,"y":-0.04},
{"x":-0.016,"y":-0.048},{"x":-0.011,"y":-0.048},{"x":-0.006,"y":-0.048},{"x":-0.001,"y":-0.048},{"x":0.004,"y":-0.048},{"x":0.035,"y":-0.048},{"x":0.045,"y":-0.048},{"x":0.055,"y":-0.048},{"x":0.065,"y":-0.048},{"x":0.072,"y":-0.048},
{"x":-0.018,"y":-0.056},{"x":-0.012,"y":-0.056},{"x":-0.006,"y":-0.056},{"x":0.0,"y":-0.056},{"x":0.05,"y":-0.056},{"x":0.06,"y":-0.056},{"x":0.07,"y":-0.056},
{"x":-0.022,"y":-0.064},{"x":-0.016,"y":-0.064},{"x":-0.01,"y":-0.064},{"x":0.058,"y":-0.064},{"x":0.064,"y":-0.064},
{"x":-0.012,"y":0.012},{"x":-0.008,"y":0.0},{"x":-0.004,"y":0.015},{"x":0.0,"y":0.005},{"x":-0.015,"y":0.0},{"x":-0.01,"y":-0.01},{"x":0.004,"y":-0.005},{"x":0.008,"y":0.01},{"x":-0.002,"y":-0.015},{"x":0.01,"y":-0.002},{"x":-0.018,"y":0.015},{"x":0.015,"y":0.008},{"x":0.012,"y":-0.012},{"x":0.02,"y":0.005},{"x":0.025,"y":-0.005},{"x":0.03,"y":0.0},{"x":0.035,"y":-0.01},{"x":0.04,"y":-0.005},{"x":0.045,"y":-0.015},{"x":0.02,"y":-0.02},{"x":-0.006,"y":0.007},{"x":-0.003,"y":0.003},{"x":-0.009,"y":0.006},
{"x":-0.02,"y":0.005},{"x":-0.022,"y":-0.01},{"x":-0.018,"y":-0.02},{"x":-0.015,"y":-0.03},{"x":-0.012,"y":-0.04},{"x":-0.008,"y":-0.05},{"x":-0.006,"y":-0.06},{"x":-0.004,"y":-0.065},{"x":0.0,"y":-0.06},{"x":0.002,"y":-0.05},{"x":-0.005,"y":-0.045},{"x":-0.01,"y":-0.055},{"x":-0.015,"y":-0.063},
{"x":0.0304,"y":-0.0252},{"x":0.0367,"y":-0.0288},{"x":0.0431,"y":-0.0324},{"x":0.0494,"y":-0.0342},{"x":0.0525,"y":-0.0396},{"x":0.0588,"y":-0.0396},{"x":0.0636,"y":-0.0432},{"x":0.0557,"y":-0.0612},{"x":0.0604,"y":-0.072},{"x":0.0651,"y":-0.072},{"x":0.0667,"y":-0.0612},{"x":0.0715,"y":-0.052},{"x":0.0738,"y":-0.0468},{"x":0.0462,"y":-0.054},{"x":0.0336,"y":-0.0647},{"x":0.021,"y":-0.018},{"x":0.0147,"y":-0.0252},{"x":0.0099,"y":-0.0324},{"x":0.0131,"y":-0.0432},{"x":0.0076,"y":-0.0773},{"x":0.006,"y":-0.059},{"x":0.0005,"y":-0.063},{"x":-0.0035,"y":-0.054},{"x":0.025,"y":-0.035},{"x":0.04,"y":-0.045},{"x":0.018,"y":-0.04},{"x":0.027,"y":-0.05},
{"x":-0.020,"y":-0.061},{"x":-0.0137,"y":-0.063},{"x":-0.0071,"y":-0.099},{"x":-0.009,"y":-0.068},{"x":-0.0074,"y":-0.072},{"x":-0.0137,"y":-0.0306},{"x":-0.0169,"y":-0.0036},{"x":-0.025,"y":0.024}],
"F_text":[{"x":0.163,"y":0.145,"label":"1.64/123"},{"x":0.120,"y":0.127,"label":"1.64/134"},{"x":0.138,"y":0.106,"label":"1.64/133"},{"x":0.087,"y":0.113,"label":"1.09/49"},{"x":0.068,"y":0.093,"label":"1.66/135"},{"x":0.1075,"y":0.075,"label":"1.34/16"},{"x":0.086,"y":0.052,"label":"1.34/78"},{"x":0.1175,"y":0.054,"label":"1.34/49"},{"x":0.109,"y":-0.011,"label":"1.58/126"},{"x":0.087,"y":-0.039,"label":"1.79/172"},{"x":0.112,"y":-0.061,"label":".55/126"},{"x":0.110,"y":-0.094,"label":"1.55/129"},{"x":0.150,"y":-0.089,"label":"1.58/136"},{"x":0.088,"y":-0.113,"label":"1.79/129"},{"x":0.151,"y":-0.119,"label":"2.0/117"},{"x":0.024,"y":-0.082,"label":"0.90/33"},{"x":0.051,"y":-0.082,"label":"1.96/136"},{"x":-0.0166,"y":0.045,"label":"2.78/74"},{"x":-0.031,"y":0.031,"label":"2.90/"},{"x":-0.033,"y":0.009,"label":"174"},{"x":-0.0273,"y":-0.031,"label":"2.33/26"},{"x":-0.0287,"y":-0.076,"label":"2.33/30"},{"x":-0.021,"y":-0.100,"label":"2.33/175"},{"x":-0.0228,"y":-0.120,"label":"fatty acids"},{"x":-0.0188,"y":0.088,"label":"citric acid"},{"x":0.0987,"y":0.156,"label":"nemorosone"},{"x":0.127,"y":-0.135,"label":"5-hydroxy tocotrienoloic acid"}],
"F_boxes":[{"x":0.0711,"x2":0.1775,"y":0.185,"y2":0.0295,"kind":"nemorosone"},{"x":0.073,"x2":0.1775,"y":0.0054,"y2":-0.1457,"kind":"tocotrienoloic"}]
},
"concat":[
{"width":592,"height":325,"view":{"fill":"#efefef","stroke":null},
 "encoding":{"x":{"field":"x","type":"quantitative","scale":{"domain":[-30000,30000],"nice":false,"zero":false},"axis":{"values":[-30000,-20000,-10000,0,10000,20000,30000],"format":"d","labelExpr":"replace(datum.label,'−','-')","title":"PC1(46%)","titleFontSize":25,"titlePadding":5}},
  "y":{"field":"y","type":"quantitative","scale":{"domain":[-30000,30000],"nice":false,"zero":false},"axis":{"values":[-30000,-20000,-10000,0,10000,20000,30000],"format":"d","labelExpr":"replace(datum.label,'−','-')","title":"PC2(31%)","titleFontSize":28,"titlePadding":-3}}},
 "layer":[
  {"data":{"values":[{"x":0,"y":0}]},"mark":{"type":"point","shape":"M -1 0 A 1 0.4566 0 1 0 1 0 A 1 0.4566 0 1 0 -1 0 Z","size":329706,"filled":true,"fill":"#ffffff","fillOpacity":0.8,"stroke":"#9a9a9a","strokeWidth":1,"opacity":1}},
  {"data":{"values":[{}]},"mark":{"type":"rule","color":"#777","strokeWidth":1},"encoding":{"x":{"datum":0},"y":{"datum":-30000},"y2":{"datum":30000}}},
  {"data":{"values":[{}]},"mark":{"type":"rule","color":"#777","strokeWidth":1},"encoding":{"y":{"datum":0},"x":{"datum":-30000},"x2":{"datum":30000}}},
  {"data":{"name":"A_pts"},"mark":{"type":"circle","size":200,"stroke":"#222","strokeWidth":0.8,"opacity":1},
   "encoding":{"color":{"field":"tissue","type":"nominal","scale":{"domain":["Leaf","Fruit","Seed","Flower"],"range":["#22dd22","#0b0bef","#b00000","#eeea00"]},
    "legend":{"title":null,"orient":"none","legendX":458,"legendY":-4,"symbolType":"square","symbolSize":440,"symbolStrokeWidth":0,"symbolOpacity":1,"labelFontSize":21,"labelFont":"Open Sans","labelColor":"#111","fillColor":"#ffffff","padding":3,"rowPadding":5,"labelOffset":3}}}},
  {"data":{"name":"A_lab"},"mark":{"type":"text","fontSize":9,"color":"#333"},"encoding":{"text":{"field":"label"}}},
  {"data":{"values":[{"x":-29000,"y":25400,"label":"(A)"}]},"mark":{"type":"text","align":"left","baseline":"middle","fontSize":28,"fontWeight":"bold","color":"#111"},"encoding":{"text":{"field":"label"}}}
 ]},
{"width":592,"height":318,
 "encoding":{"x":{"field":"x","type":"quantitative","scale":{"domain":[-0.6,0.2],"nice":false,"zero":false},"axis":{"values":[-0.6,-0.5,-0.4,-0.3,-0.2,-0.1,0,0.1,0.2],"format":"~g","labelExpr":"replace(datum.label,'−','-')","title":"PC1","titleFontSize":25,"titlePadding":6,"gridColor":"#e2e2e2"}},
  "y":{"field":"y","type":"quantitative","scale":{"domain":[-0.2,0.7],"nice":false,"zero":false},"axis":{"values":[-0.2,-0.1,0,0.1,0.2,0.3,0.4,0.5,0.6,0.7],"format":"~g","labelExpr":"replace(datum.label,'−','-')","title":"PC2","titleFontSize":28,"titlePadding":5,"gridColor":"#e2e2e2"}}},
 "layer":[
  {"data":{"values":[{}]},"mark":{"type":"rule","color":"#777","strokeWidth":1.3},"encoding":{"x":{"datum":0},"y":{"datum":-0.2},"y2":{"datum":0.7}}},
  {"data":{"values":[{}]},"mark":{"type":"rule","color":"#777","strokeWidth":1.8},"encoding":{"y":{"datum":0},"x":{"datum":-0.6},"x2":{"datum":0.2}}},
  {"data":{"name":"D_pts"},"mark":{"type":"text","align":"left","dx":8,"fontSize":8.5,"color":"#444"},"encoding":{"text":{"field":"label"}}},
  {"data":{"name":"D_pts"},"mark":{"type":"circle","size":185,"color":"#000","opacity":1}},
  {"data":{"name":"D_notes"},"mark":{"type":"text","fontSize":17,"color":"#111"},"encoding":{"text":{"field":"label"}}},
  {"data":{"values":[{"x":0.152,"y":0.279,"x2":0.140,"y2":0.0}]},"mark":{"type":"rule","color":"#5fae3b","strokeWidth":1.5},"encoding":{"x2":{"field":"x2"},"y2":{"field":"y2"}}},
  {"data":{"values":[{"x":0.139,"y":-0.004}]},"mark":{"type":"point","shape":"triangle-up","angle":185,"size":140,"filled":true,"color":"#5fae3b","opacity":1}},
  {"data":{"values":[{"x":-0.585,"y":0.63,"label":"(D)"}]},"mark":{"type":"text","align":"left","baseline":"middle","fontSize":28,"fontWeight":"bold","color":"#111"},"encoding":{"text":{"field":"label"}}}
 ]},
{"width":592,"height":324,"view":{"fill":"#efefef","stroke":null},
 "encoding":{"x":{"field":"x","type":"quantitative","scale":{"domain":[-30,30],"nice":false,"zero":false},"axis":{"values":[-30,-20,-10,0,10,20,30],"format":"d","labelExpr":"replace(datum.label,'−','-')","title":"PC1(47%)","titleFontSize":25,"titlePadding":14}},
  "y":{"field":"y","type":"quantitative","scale":{"domain":[-25,25],"nice":false,"zero":false},"axis":{"values":[-25,-20,-15,-10,-5,0,5,10,15,20,25],"format":"d","labelExpr":"replace(datum.label,'−','-')","title":"PC2(23%)","titleFontSize":28,"titlePadding":13}}},
 "layer":[
  {"data":{"values":[{"x":0,"y":0}]},"mark":{"type":"point","shape":"M -1 0 A 1 0.461 0 1 0 1 0 A 1 0.461 0 1 0 -1 0 Z","size":338724,"filled":true,"fill":"#ffffff","fillOpacity":0.8,"stroke":"#9a9a9a","strokeWidth":1,"opacity":1}},
  {"data":{"values":[{}]},"mark":{"type":"rule","color":"#777","strokeWidth":1},"encoding":{"x":{"datum":0},"y":{"datum":-25},"y2":{"datum":25}}},
  {"data":{"values":[{}]},"mark":{"type":"rule","color":"#777","strokeWidth":1},"encoding":{"y":{"datum":0},"x":{"datum":-30},"x2":{"datum":30}}},
  {"data":{"name":"B_pts"},"mark":{"type":"circle","size":200,"stroke":"#222","strokeWidth":0.8,"opacity":1},
   "encoding":{"color":{"field":"tissue","type":"nominal","scale":{"domain":["Leaf","Fruit","Seed","Flower"],"range":["#22dd22","#0b0bef","#b00000","#eeea00"]},"legend":null}}},
  {"data":{"name":"B_lab"},"mark":{"type":"text","fontSize":9,"color":"#333"},"encoding":{"text":{"field":"label"}}},
  {"data":{"values":[{"x":-29.0,"y":20.6,"label":"(B)"}]},"mark":{"type":"text","align":"left","baseline":"middle","fontSize":28,"fontWeight":"bold","color":"#111"},"encoding":{"text":{"field":"label"}}}
 ]},
{"width":592,"height":312,
 "encoding":{"x":{"field":"x","type":"quantitative","scale":{"domain":[-0.35,0.094],"nice":false,"zero":false},"axis":{"values":[-0.35,-0.3,-0.25,-0.2,-0.15,-0.1,-0.05,0,0.05],"format":"~g","labelExpr":"replace(replace(datum.label,'.',','),'−','-')","labelFontSize":11,"title":"PC1","titleFontSize":25,"titlePadding":23,"gridColor":"#e6e6e6"}},
  "y":{"field":"y","type":"quantitative","scale":{"domain":[-0.4,0.485],"nice":false,"zero":false},"axis":{"values":[-0.4,-0.3,-0.2,-0.1,0,0.1,0.2,0.3,0.4],"format":"~g","labelExpr":"replace(replace(datum.label,'.',','),'−','-')","labelFontSize":11,"title":"PC2","titleFontSize":28,"titlePadding":0,"gridColor":"#e6e6e6"}}},
 "layer":[
  {"data":{"values":[{}]},"mark":{"type":"rule","color":"#888","strokeWidth":1.3},"encoding":{"x":{"datum":0},"y":{"datum":-0.4},"y2":{"datum":0.485}}},
  {"data":{"values":[{}]},"mark":{"type":"rule","color":"#888","strokeWidth":1.5},"encoding":{"y":{"datum":0},"x":{"datum":-0.35},"x2":{"datum":0.094}}},
  {"data":{"values":[{"x":-0.35,"y":0.485}]},"mark":{"type":"point","shape":"triangle-up","size":90,"filled":true,"color":"#888","opacity":1}},
  {"data":{"values":[{"x":0.094,"y":-0.4}]},"mark":{"type":"point","shape":"triangle-right","size":90,"filled":true,"color":"#888","opacity":1}},
  {"data":{"name":"E_pts"},"mark":{"type":"circle","size":180,"color":"#000","opacity":1}},
  {"data":{"name":"E_pts"},"mark":{"type":"text","align":"left","dx":8,"fontSize":11,"color":"#333"},"encoding":{"text":{"field":"label"}}},
  {"data":{"name":"E_notes"},"mark":{"type":"text","fontSize":17,"color":"#111"},"encoding":{"text":{"field":"label"}}},
  {"data":{"values":[{"x":-0.261,"y":0.256,"x2":-0.236,"y2":0.39},{"x":-0.261,"y":0.256,"x2":-0.117,"y2":0.241},{"x":-0.239,"y":0.235,"x2":-0.190,"y2":0.209},{"x":-0.290,"y":0.207,"x2":-0.307,"y2":0.108}]},"mark":{"type":"rule","color":"#f5b400","strokeWidth":1.6},"encoding":{"x2":{"field":"x2"},"y2":{"field":"y2"}}},
  {"data":{"values":[{"x":-0.293,"y":-0.230,"x2":-0.287,"y2":-0.117},{"x":-0.246,"y":-0.230,"x2":-0.246,"y2":-0.177},{"x":-0.205,"y":-0.230,"x2":-0.214,"y2":-0.089}]},"mark":{"type":"rule","color":"#2a74c8","strokeWidth":1.6},"encoding":{"x2":{"field":"x2"},"y2":{"field":"y2"}}},
  {"data":{"values":[{"x":-0.079,"y":-0.333,"x2":-0.131,"y2":-0.319},{"x":-0.079,"y":-0.333,"x2":-0.089,"y2":-0.303}]},"mark":{"type":"rule","color":"#c00000","strokeWidth":1.6},"encoding":{"x2":{"field":"x2"},"y2":{"field":"y2"}}},
  {"data":{"values":[{"x":0.031,"y":0.205,"x2":0.031,"y2":0.16}]},"mark":{"type":"rule","color":"#5fae3b","strokeWidth":1.6},"encoding":{"x2":{"field":"x2"},"y2":{"field":"y2"}}},
  {"data":{"values":[{"x":-0.236,"y":0.39}]},"mark":{"type":"point","shape":"triangle-up","angle":35,"size":140,"filled":true,"color":"#f5b400","opacity":1}},
  {"data":{"values":[{"x":-0.117,"y":0.241}]},"mark":{"type":"point","shape":"triangle-up","angle":92,"size":140,"filled":true,"color":"#f5b400","opacity":1}},
  {"data":{"values":[{"x":-0.190,"y":0.209}]},"mark":{"type":"point","shape":"triangle-up","angle":98,"size":140,"filled":true,"color":"#f5b400","opacity":1}},
  {"data":{"values":[{"x":-0.307,"y":0.108}]},"mark":{"type":"point","shape":"triangle-up","angle":213,"size":140,"filled":true,"color":"#f5b400","opacity":1}},
  {"data":{"values":[{"x":-0.287,"y":-0.117}]},"mark":{"type":"point","shape":"triangle-up","angle":11,"size":140,"filled":true,"color":"#2a74c8","opacity":1}},
  {"data":{"values":[{"x":-0.246,"y":-0.177}]},"mark":{"type":"point","shape":"triangle-up","angle":0,"size":140,"filled":true,"color":"#2a74c8","opacity":1}},
  {"data":{"values":[{"x":-0.214,"y":-0.089}]},"mark":{"type":"point","shape":"triangle-up","angle":346,"size":140,"filled":true,"color":"#2a74c8","opacity":1}},
  {"data":{"values":[{"x":-0.131,"y":-0.319}]},"mark":{"type":"point","shape":"triangle-up","angle":274,"size":140,"filled":true,"color":"#c00000","opacity":1}},
  {"data":{"values":[{"x":-0.089,"y":-0.303}]},"mark":{"type":"point","shape":"triangle-up","angle":309,"size":140,"filled":true,"color":"#c00000","opacity":1}},
  {"data":{"values":[{"x":0.031,"y":0.16}]},"mark":{"type":"point","shape":"triangle-up","angle":180,"size":140,"filled":true,"color":"#5fae3b","opacity":1}},
  {"data":{"values":[{"x":-0.343,"y":0.412,"label":"(E)"}]},"mark":{"type":"text","align":"left","baseline":"middle","fontSize":28,"fontWeight":"bold","color":"#111"},"encoding":{"text":{"field":"label"}}}
 ]},
{"width":592,"height":327,"view":{"fill":"#efefef","stroke":null},
 "encoding":{"x":{"field":"x","type":"quantitative","scale":{"domain":[-20,19.1],"nice":false,"zero":false},"axis":{"values":[-20,-15,-10,-5,0,5,10,15],"format":"d","labelExpr":"replace(datum.label,'−','-')","title":"PC1(17%)","titleFontSize":25,"titlePadding":22}},
  "y":{"field":"y","type":"quantitative","scale":{"domain":[-15,15],"nice":false,"zero":false},"axis":{"values":[-15,-10,-5,0,5,10,15],"format":"d","labelExpr":"replace(datum.label,'−','-')","title":"PC2(7%)","titleFontSize":28,"titlePadding":13}}},
 "layer":[
  {"data":{"values":[{"x":0,"y":0}]},"mark":{"type":"point","shape":"M -1 0 A 1 0.486 0 1 0 1 0 A 1 0.486 0 1 0 -1 0 Z","size":334547,"filled":true,"fill":"#ffffff","fillOpacity":0.8,"stroke":"#9a9a9a","strokeWidth":1,"opacity":1}},
  {"data":{"values":[{}]},"mark":{"type":"rule","color":"#777","strokeWidth":1},"encoding":{"x":{"datum":0},"y":{"datum":-15},"y2":{"datum":15}}},
  {"data":{"values":[{}]},"mark":{"type":"rule","color":"#777","strokeWidth":1.5},"encoding":{"y":{"datum":0},"x":{"datum":-20},"x2":{"datum":19.1}}},
  {"data":{"name":"C_pts"},"mark":{"type":"circle","size":220,"stroke":"#222","strokeWidth":0.8,"opacity":1},
   "encoding":{"color":{"field":"tissue","type":"nominal","scale":{"domain":["Leaf","Fruit","Seed","Flower"],"range":["#22dd22","#0b0bef","#b00000","#eeea00"]},"legend":null}}},
  {"data":{"name":"C_lab"},"mark":{"type":"text","fontSize":9,"color":"#333"},"encoding":{"text":{"field":"label"}}},
  {"data":{"values":[{"x":-19.0,"y":12.3,"label":"(C)"}]},"mark":{"type":"text","align":"left","baseline":"middle","fontSize":28,"fontWeight":"bold","color":"#111"},"encoding":{"text":{"field":"label"}}}
 ]},
{"width":592,"height":312,
 "encoding":{"x":{"field":"x","type":"quantitative","scale":{"domain":[-0.04,0.178],"nice":false,"zero":false},"axis":{"values":[-0.04,-0.02,0,0.02,0.04,0.06,0.08,0.1,0.12,0.14,0.16],"format":"~g","labelExpr":"replace(datum.label,'−','-')","labelFontSize":11,"title":"PC1","titleFontSize":25,"titlePadding":25,"gridColor":"#e2e2e2"}},
  "y":{"field":"y","type":"quantitative","scale":{"domain":[-0.15,0.188],"nice":false,"zero":false},"axis":{"values":[-0.15,-0.1,-0.05,0,0.05,0.1,0.15],"format":"~g","labelExpr":"replace(datum.label,'−','-')","labelFontSize":11,"title":"PC2","titleFontSize":28,"titlePadding":-12,"gridColor":"#e2e2e2"}}},
 "layer":[
  {"data":{"values":[{}]},"mark":{"type":"rule","color":"#777","strokeWidth":1.3},"encoding":{"x":{"datum":0},"y":{"datum":-0.15},"y2":{"datum":0.188}}},
  {"data":{"values":[{}]},"mark":{"type":"rule","color":"#777","strokeWidth":1.5},"encoding":{"y":{"datum":0},"x":{"datum":-0.04},"x2":{"datum":0.178}}},
  {"data":{"values":[{"x":-0.04,"y":0.188}]},"mark":{"type":"point","shape":"triangle-up","size":90,"filled":true,"color":"#888","opacity":1}},
  {"data":{"values":[{"x":0.178,"y":-0.15}]},"mark":{"type":"point","shape":"triangle-right","size":90,"filled":true,"color":"#888","opacity":1}},
  {"data":{"name":"F_boxes"},"mark":{"type":"rect","fill":null,"fillOpacity":0,"strokeWidth":2.2,"strokeDash":[14,7],"cornerRadius":18},
   "encoding":{"x2":{"field":"x2"},"y2":{"field":"y2"},"stroke":{"field":"kind","type":"nominal","scale":{"domain":["nemorosone","tocotrienoloic"],"range":["#f5b400","#1f3ff0"]},"legend":null}}},
  {"data":{"name":"F_pts"},"mark":{"type":"circle","size":125,"fill":"#000","stroke":"#555","strokeWidth":0.8,"opacity":1}},
  {"data":{"name":"F_text"},"mark":{"type":"text","fontSize":15,"color":"#111"},"encoding":{"text":{"field":"label"}}},
  {"data":{"values":[{"x":-0.0287,"y":0.0665,"x2":-0.0279,"y2":0.0568}]},"mark":{"type":"rule","color":"#5fae3b","strokeWidth":1.5},"encoding":{"x2":{"field":"x2"},"y2":{"field":"y2"}}},
  {"data":{"values":[{"x":-0.0303,"y":-0.1097,"x2":-0.0276,"y2":-0.0576},{"x":-0.0003,"y":-0.1151,"x2":0.0076,"y2":-0.0881}]},"mark":{"type":"rule","color":"#c00000","strokeWidth":1.5},"encoding":{"x2":{"field":"x2"},"y2":{"field":"y2"}}},
  {"data":{"values":[{"x":-0.0279,"y":0.0568}]},"mark":{"type":"point","shape":"triangle-up","angle":180,"size":120,"filled":true,"color":"#5fae3b","opacity":1}},
  {"data":{"values":[{"x":-0.0276,"y":-0.0576}]},"mark":{"type":"point","shape":"triangle-up","angle":9,"size":120,"filled":true,"color":"#c00000","opacity":1}},
  {"data":{"values":[{"x":0.0076,"y":-0.0881}]},"mark":{"type":"point","shape":"triangle-up","angle":41,"size":120,"filled":true,"color":"#c00000","opacity":1}},
  {"data":{"values":[{"x":-0.0366,"y":0.154,"label":"(F)"}]},"mark":{"type":"text","align":"left","baseline":"middle","fontSize":28,"fontWeight":"bold","color":"#111"},"encoding":{"text":{"field":"label"}}}
 ]}
],
"columns":2,
"spacing":{"row":65,"column":62},
"bounds":"flush",
"resolve":{"scale":{"color":"independent","stroke":"independent"},"legend":{"color":"independent"}}
}
